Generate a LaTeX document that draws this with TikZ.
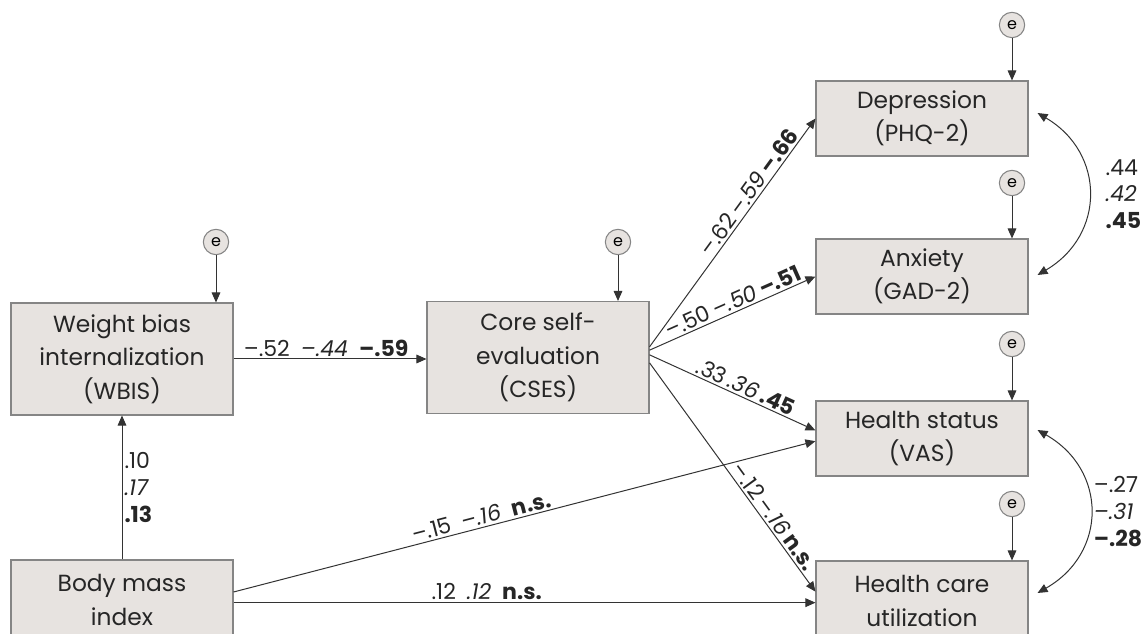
\documentclass[tikz,border=0pt]{standalone}
\usepackage{fontspec}
\setmainfont{Poppins}
\usetikzlibrary{positioning}
\usetikzlibrary{arrows.meta}
\definecolor{boxfill}{HTML}{E7E3E0}
\definecolor{boxline}{HTML}{858585}
\definecolor{linecol}{HTML}{333333}
\tikzset{
    varbox/.style = {rectangle, draw=boxline, fill=boxfill, line width=0.8pt, minimum width=166.5pt, align=center, inner sep=0pt, text=black!85, font=\fontsize{17.5}{25}\selectfont},
    errnode/.style = {circle, draw=boxline, fill=boxfill, line width=0.8pt, minimum size=19pt, inner sep=0pt, font=\fontsize{12}{14}\selectfont},
    edgen/.style = {-{Triangle[length=7.5pt,width=6.5pt]}, line width=0.75pt, draw=linecol},
    edgec/.style = {{Triangle[length=7.5pt,width=6.5pt]}-{Triangle[length=7.5pt,width=6.5pt]}, line width=0.75pt, draw=linecol},
    coef/.style = {inner sep=1.5pt, text=black!85, font=\fontsize{16.5}{20}\selectfont},
}

\begin{document}
\begin{tikzpicture}[x=0.75pt,y=-0.75pt]
\useasboundingbox (0,0) rectangle (1142,634);
%
\node[varbox,minimum height=84pt] at (122, 359) (wbis) {Weight bias\\internalization\\(WBIS)};
\node[varbox,minimum height=60pt] at (122, 600) (bmi) {Body mass\\index};
\node[varbox,minimum height=84pt] at (538, 357.5) (cses) {Core self-\\evaluation\\(CSES)};
\node[varbox,minimum width=159pt,minimum height=56.25pt] at (922, 118.5) (dep) {Depression\\(PHQ-2)};
\node[varbox,minimum width=159pt,minimum height=56.25pt] at (922, 276.5) (anx) {Anxiety\\(GAD-2)};
\node[varbox,minimum width=159pt,minimum height=56.25pt] at (922, 438.5) (hs) {Health status\\(VAS)};
\node[varbox,minimum width=159pt,minimum height=60pt] at (922, 601) (hc) {Health care\\utilization};
%
\node[errnode] at (216, 242) (ewbis) {e};
\node[errnode] at (618, 242) (ecses) {e};
\node[errnode] at (1012, 25) (edep) {e};
\node[errnode] at (1012, 183) (eanx) {e};
\node[errnode] at (1012, 344) (ehs) {e};
\node[errnode] at (1012, 504) (ehc) {e};
%
\draw[edgen] (ewbis) -- (ewbis |- wbis.north);
\draw[edgen] (ecses) -- (ecses |- cses.north);
\draw[edgen] (edep) -- (edep |- dep.north);
\draw[edgen] (eanx) -- (eanx |- anx.north);
\draw[edgen] (ehs) -- (ehs |- hs.north);
\draw[edgen] (ehc) -- (ehc |- hc.north);
%
\draw[edgen] (bmi.north) -- (wbis.south)
    node[coef,right,align=left,midway] {.10\\\textit{.17}\\\textbf{.13}};
\draw[edgen] (wbis.east) -- (wbis.east -| cses.west)
    node[coef,above,pos=0.48] {–.52\enspace\textit{–.44}\enspace\textbf{–.59}};
\draw[edgen] ([yshift=6pt]bmi.east) -- ([yshift=-2pt]hs.west)
    node[coef,sloped,above,pos=0.43] {–.15\enspace\textit{–.16}\enspace\textbf{n.s.}};
\draw[edgen] ([yshift=-2pt]bmi.east) -- ([yshift=-2pt]bmi.east -| hc.west)
    node[coef,above,pos=0.435] {.12\enspace\textit{.12}\enspace\textbf{n.s.}};
%
\draw[edgen] ([yshift=8pt]cses.east) -- (dep.west)
    node[coef,sloped,above,pos=0.65] {–.62\hspace{3pt}\textit{–.59}\hspace{3pt}\textbf{–.66}};
\draw[edgen] ([yshift=5.5pt]cses.east) -- (anx.west)
    node[coef,sloped,above,pos=0.53] {–.50\hspace{3pt}\textit{–.50}\hspace{3pt}\textbf{–.51}};
\draw[edgen] ([yshift=2pt]cses.east) -- ([yshift=6pt]hs.west)
    node[coef,sloped,above,pos=0.556] {.33\hspace{3pt}\textit{.36}\hspace{3pt}\textbf{.45}};
\draw[edgen] ([yshift=-4pt]cses.east) -- ([yshift=7pt]hc.west)
    node[coef,sloped,above,pos=0.7] {–.12\hspace{3pt}\textit{–.16}\hspace{3pt}\textbf{n.s.}};
%
\draw[edgec] ([shift={(9,-5.5)}]dep.east) .. controls +(68,40) and +(68,-40) .. ([shift={(9,-1.5)}]anx.east)
    node[coef,right,align=left,pos=0.5,xshift=11pt] {.44\\\textit{.42}\\\textbf{.45}};
\draw[edgec] ([shift={(9,-8.5)}]hs.east) .. controls +(70,40) and +(70,-40) .. ([shift={(9,-8)}]hc.east)
    node[coef,right,align=left,pos=0.5,xshift=1pt] {–.27\\\textit{–.31}\\\textbf{–.28}};
\end{tikzpicture}
\end{document}
